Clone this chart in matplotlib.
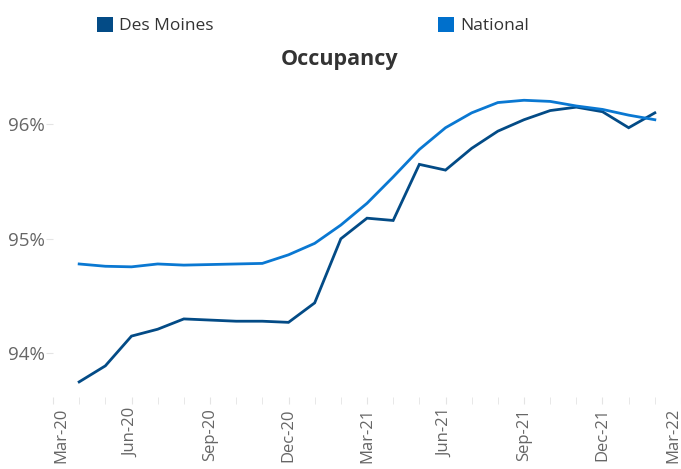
import matplotlib
matplotlib.use("Agg")
import matplotlib.pyplot as plt
from matplotlib.patches import Patch
import numpy as np

months = ["Apr-20", "May-20", "Jun-20", "Jul-20", "Aug-20", "Sep-20", "Oct-20", "Nov-20",
          "Dec-20", "Jan-21", "Feb-21", "Mar-21", "Apr-21", "May-21", "Jun-21", "Jul-21",
          "Aug-21", "Sep-21", "Oct-21", "Nov-21", "Dec-21", "Jan-22", "Feb-22"]
des_moines = [93.75, 93.89, 94.15, 94.21, 94.30, 94.29, 94.28, 94.28, 94.27, 94.44, 95.00,
              95.18, 95.16, 95.65, 95.60, 95.79, 95.94, 96.04, 96.12, 96.15, 96.11, 95.97, 96.10]
national = [94.78, 94.76, 94.755, 94.78, 94.77, 94.775, 94.78, 94.785, 94.86, 94.96, 95.12,
            95.31, 95.54, 95.78, 95.97, 96.10, 96.19, 96.21, 96.20, 96.16, 96.13, 96.08, 96.04]
tick_labels = ["Mar-20", "Jun-20", "Sep-20", "Dec-20", "Mar-21", "Jun-21", "Sep-21", "Dec-21", "Mar-22"]
y_ticks = [94, 95, 96]

plt.rcParams['font.family'] = ['Open Sans', 'DejaVu Sans']

c_dm = "#034b86"
c_nat = "#0a78d2"
gray = "#666666"

fig = plt.figure(figsize=(6.81, 4.69), dpi=100)
W, H = 681, 469
left, right, top, bottom = 53, 681, 80, 397
ax = fig.add_axes([left / W, 1 - bottom / H, (right - left) / W, (bottom - top) / H])

x = np.arange(len(months))
ax.plot(x, des_moines, color=c_dm, lw=2.0, solid_joinstyle='miter')
ax.plot(x, national, color=c_nat, lw=2.0, solid_joinstyle='miter')

ax.set_xlim(-1, len(months))
ax.set_ylim(93.618, 96.387)

for s in ax.spines.values():
    s.set_visible(False)

ax.set_xticks(np.arange(-1, len(months) + 1, 3))
ax.set_xticklabels(tick_labels, rotation=90, ha='center', va='top')
ax.set_xticks(np.arange(-1, len(months) + 1), minor=True)
ax.tick_params(axis='x', which='both', length=5, color='#e4e4e4', labelcolor=gray,
               labelsize=12, pad=3)
xl = ax.get_xticklabels()
xl[0].set_ha('left')
xl[-1].set_ha('right')
ax.set_yticks(y_ticks)
ax.set_yticklabels([f"{v}%" for v in y_ticks])
ax.tick_params(axis='y', length=5, color='#e4e4e4', labelcolor=gray, labelsize=13.5, pad=1)

fig.text(340 / W, 1 - 60 / H, "Occupancy", ha='center', va='center', fontsize=15.5,
         fontweight='bold', color='#333333')

handles = [Patch(facecolor=c_dm, edgecolor='none', label="Des Moines"),
           Patch(facecolor="#0070cc", edgecolor='none', label="National")]
fig.legend(handles=handles, loc='upper left', bbox_to_anchor=(81 / W, 1 - 1 / H), ncol=2,
           frameon=False, fontsize=12.5, handlelength=0.95, handleheight=1.0,
           handletextpad=0.35, columnspacing=12.9, labelcolor='#333333')

fig.savefig("out.png", dpi=100)
